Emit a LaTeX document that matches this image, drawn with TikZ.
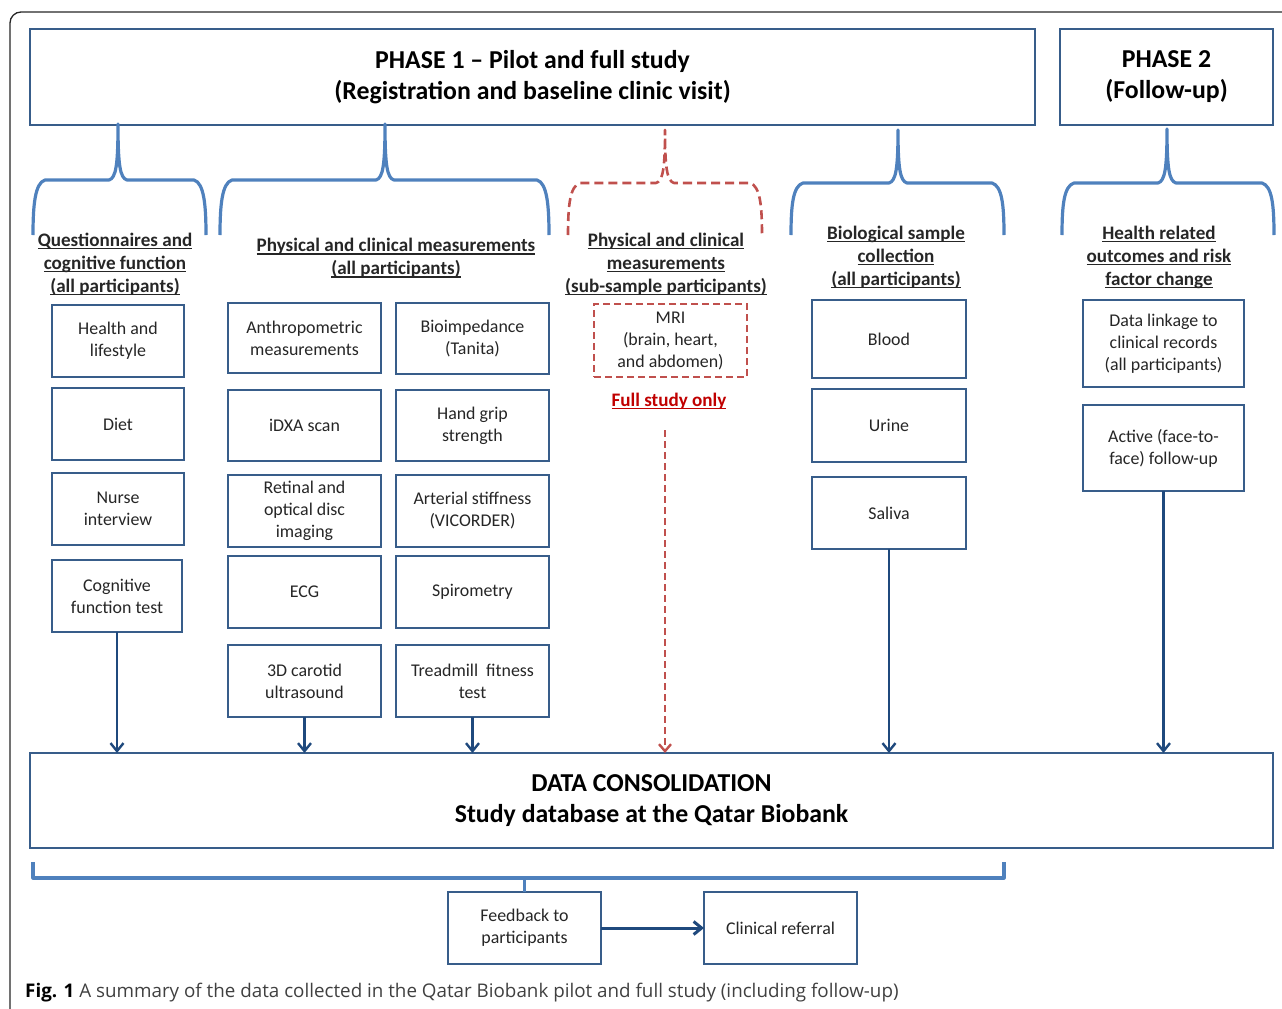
\documentclass[tikz,border=0pt]{standalone}
\usepackage{fontspec}
\setmainfont{Carlito}
\newfontfamily\capfont{Open Sans}
\usetikzlibrary{arrows.meta}
\definecolor{boxblue}{RGB}{56,93,138}
\definecolor{braceblue}{RGB}{79,129,189}
\definecolor{arrownavy}{RGB}{31,73,125}
\definecolor{dashred}{RGB}{192,80,77}
\definecolor{fullred}{RGB}{192,0,0}
\definecolor{capgray}{RGB}{64,64,64}
\newsavebox\ulbox
\newcommand{\ul}[1]{\sbox\ulbox{#1}\rlap{\usebox\ulbox}\rule[-3pt]{\wd\ulbox}{1.3pt}}
\newcommand{\bx}[7][]{\node[box,#1,minimum width={(#5-#3)*1pt},minimum height={(#6-#4)*1pt}] (#2) at ({(#3+#5)/2},{(#4+#6)/2}) {#7};}
\newcommand{\bracedraw}[6][]{\draw[bracestyle,#1] (#2,235) .. controls (#2,205) and (#2+2,#6+3) .. (#2+12,#6) -- (#4-9,#6) .. controls (#4-2,#6-2) and (#4,#6-15) .. (#4,#5) .. controls (#4,#6-15) and (#4+2,#6-2) .. (#4+9,#6) -- (#3-12,#6) .. controls (#3-2,#6+3) and (#3,205) .. (#3,235);}
\begin{document}
\begin{tikzpicture}[x=1pt,y=-1pt,
  box/.style={draw=boxblue,line width=2.4pt,fill=white,inner sep=2pt,outer sep=0pt,align=center,
    font=\fontsize{17.9}{22}\selectfont,text=black!85},
  redbox/.style={draw=dashred,dash pattern=on 7pt off 4pt},
  titletext/.style={font=\fontsize{25.8}{31}\selectfont\bfseries,text=black},
  consfont/.style={font=\fontsize{25.8}{31}\selectfont\bfseries,text=black},
  head/.style={align=center,inner sep=0pt,font=\fontsize{19.1}{23}\selectfont\bfseries,text=black!85},
  bracestyle/.style={draw=braceblue,line width=3.2pt,line join=round},
  redbrace/.style={draw=dashred,line width=2.6pt,dash pattern=on 9pt off 5pt},
  arr/.style={draw=arrownavy,line width=2.4pt,-{Straight Barb[length=8pt,width=13pt]}},
  redarr/.style={draw=dashred,line width=2.4pt,dash pattern=on 7pt off 4pt,-{Straight Barb[length=7pt,width=12pt]}}
]
\useasboundingbox (0,0) rectangle (1282,1009);
% outer frame
\draw[line width=1.3pt,black!85,rounded corners=11pt] (10,1020) -- (10,12) -- (1300,12);

% phase boxes
\bx[titletext]{p1}{30}{29}{1035}{125}{PHASE 1 – Pilot and full study\\(Registration and baseline clinic visit)}
\bx[titletext]{p2}{1060}{29}{1273}{125}{PHASE 2\\(Follow-up)}

% braces
\bracedraw{33}{206}{118}{124}{180}
\bracedraw{220}{549}{385}{124}{180}
\bracedraw[redbrace]{568}{762}{665}{130}{183}
\bracedraw{791}{1004}{898}{130}{183}
\bracedraw{1062}{1274}{1167}{129}{183}

% headings
\node[head] (h1) at (115,264) {\ul{Questionnaires and}\\\ul{cognitive function}\\\ul{(all participants)}};
\node[head] (h2) at (396,258) {\ul{Physical and clinical measurements}\\\ul{(all participants)}};
\node[head] (h3) at (666,264) {\ul{Physical and clinical}\\\ul{measurements}\\\ul{(sub-sample participants)}};
\node[head] (h4) at (896,257) {\ul{Biological sample}\\\ul{collection}\\\ul{(all participants)}};
\node[head] (h5) at (1159,257) {\ul{Health related}\\\ul{outcomes and risk}\\\ul{factor change}};

% column 1
\bx{hl}{52}{305}{184}{377}{Health and\\lifestyle}
\bx{diet}{52}{388}{184}{460}{Diet}
\bx{nurse}{52}{473}{184}{545}{Nurse\\interview}
\bx{cog}{52}{560}{182}{632}{Cognitive\\function test}
% column 2
\bx{anth}{228}{303}{381}{373}{Anthropometric\\measurements}
\bx{idxa}{228}{390}{381}{461}{iDXA scan}
\bx{ret}{228}{475}{381}{547}{Retinal and\\optical disc\\imaging}
\bx{ecg}{228}{556}{381}{628}{ECG}
\bx{car}{228}{645}{381}{717}{3D carotid\\ultrasound}
% column 3
\bx{bio}{396}{303}{549}{374}{Bioimpedance\\(Tanita)}
\bx{hand}{396}{390}{549}{461}{Hand grip\\strength}
\bx{art}{396}{475}{549}{547}{Arterial stiffness\\(VICORDER)}
\bx{spi}{396}{556}{549}{628}{Spirometry}
\bx{tread}{396}{645}{549}{717}{Treadmill~ fitness\\test}
% MRI
\bx[redbox,line width=2pt]{mri}{594}{304}{747}{377}{MRI\\(brain, heart,\\and abdomen)}
\node[font=\fontsize{19.1}{23}\selectfont\bfseries,text=fullred,inner sep=0pt] (fs) at (669,401) {\ul{Full study only}};
\coordinate (rstart) at (665,430);
% biological
\bx{blood}{812}{300}{966}{378}{Blood}
\bx{urine}{812}{389}{966}{462}{Urine}
\bx{saliva}{812}{477}{966}{549}{Saliva}
% phase 2
\bx{link}{1083}{300}{1244}{387}{Data linkage to\\clinical records\\(all participants)}
\bx{active}{1083}{405}{1244}{491}{Active (face-to-\\face) follow-up}

% consolidation
\bx[consfont]{cons}{30}{753}{1273}{848}{DATA CONSOLIDATION\\Study database at the Qatar Biobank}

% arrows
\draw[arr] (cog.south) -- (cog.south |- cons.north);
\draw[arr] (car.south) -- (car.south |- cons.north);
\draw[arr] (tread.south) -- (tread.south |- cons.north);
\draw[redarr] (rstart) -- (rstart |- cons.north);
\draw[arr] (saliva.south) -- (saliva.south |- cons.north);
\draw[arr] (active.south) -- (active.south |- cons.north);

% feedback
\bx{fb}{448}{892}{601}{964}{Feedback to\\participants}
\bx{cr}{704}{892}{857}{964}{Clinical referral}
\draw[bracestyle] (33,862) -- (33,878) -- (1004,878) -- (1004,862);
\draw[bracestyle] (fb.north |- 0,878) -- (fb.north);
\draw[arr,line width=3pt] (fb.east) -- (cr.west);

% caption
\node[anchor=base west,inner sep=0pt] (cap) at (25,997) {\capfont\fontsize{18.8}{22}\selectfont\textbf{Fig. 1} {\color{capgray}A summary of the data collected in the Qatar Biobank pilot and full study (including follow-up)}};
\end{tikzpicture}
\end{document}
